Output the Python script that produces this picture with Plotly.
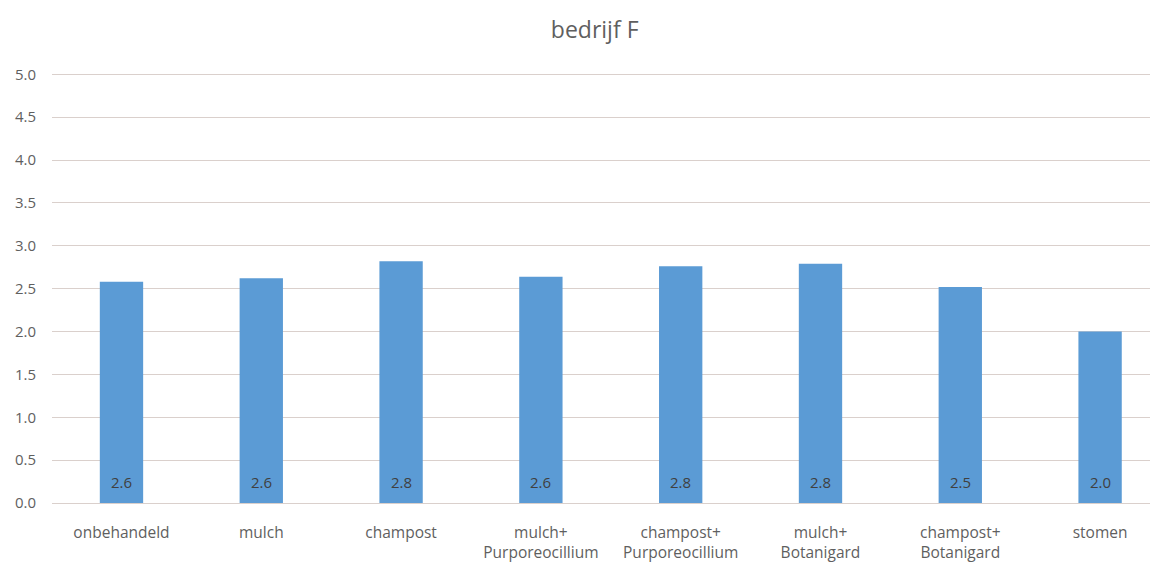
import plotly.graph_objects as go

# Treatments on farm F and their mean scores
categories = [
    "onbehandeld",
    "mulch",
    "champost",
    "mulch+<br>Purporeocillium",
    "champost+<br>Purporeocillium",
    "mulch+<br>Botanigard",
    "champost+<br>Botanigard",
    "stomen",
]
scores = [2.58, 2.62, 2.82, 2.64, 2.76, 2.79, 2.52, 2.00]
y_ticks = [0.0, 0.5, 1.0, 1.5, 2.0, 2.5, 3.0, 3.5, 4.0, 4.5, 5.0]
y_tick_text = [f"{v:.1f}" for v in y_ticks]

text_grey = "#5f5f5f"
grid_col = "#dad0cc"
bar_col = "#5b9bd5"

x_pos = list(range(len(categories)))

fig = go.Figure(
    go.Bar(
        x=x_pos,
        y=scores,
        width=0.31,
        marker=dict(color=bar_col, line=dict(width=0)),
        hoverinfo="skip",
    )
)

# value labels near the base of each bar
for xi, v in zip(x_pos, scores):
    fig.add_annotation(
        x=xi,
        y=0,
        text=f"{v:.1f}",
        showarrow=False,
        xanchor="center",
        yanchor="bottom",
        yshift=9,
        font=dict(family="Open Sans", size=15, color="#404040"),
    )

fig.update_layout(
    width=1157,
    height=567,
    margin=dict(l=52, r=7, t=70, b=64),
    paper_bgcolor="white",
    plot_bgcolor="white",
    showlegend=False,
    font=dict(family="Open Sans", color=text_grey, size=15),
    title=dict(
        text="bedrijf F",
        x=0.514,
        xanchor="center",
        y=0.948,
        yanchor="middle",
        font=dict(family="Open Sans", size=23, color=text_grey),
    ),
    xaxis=dict(
        range=[-0.497, 7.357],
        tickmode="array",
        tickvals=x_pos,
        ticktext=categories,
        showgrid=False,
        zeroline=False,
        showline=False,
        ticks="",
        automargin=False,
        ticklabelstandoff=18,
        tickfont=dict(family="Open Sans", size=15.5, color=text_grey),
    ),
    yaxis=dict(
        range=[0, 5.05],
        tickmode="array",
        tickvals=y_ticks,
        ticktext=y_tick_text,
        showgrid=True,
        gridcolor=grid_col,
        gridwidth=1,
        zeroline=True,
        zerolinecolor=grid_col,
        zerolinewidth=1,
        showline=False,
        ticks="",
        automargin=False,
        ticklabelstandoff=15,
        tickfont=dict(family="Open Sans", size=15, color=text_grey),
    ),
)

fig.write_html("out.html")
